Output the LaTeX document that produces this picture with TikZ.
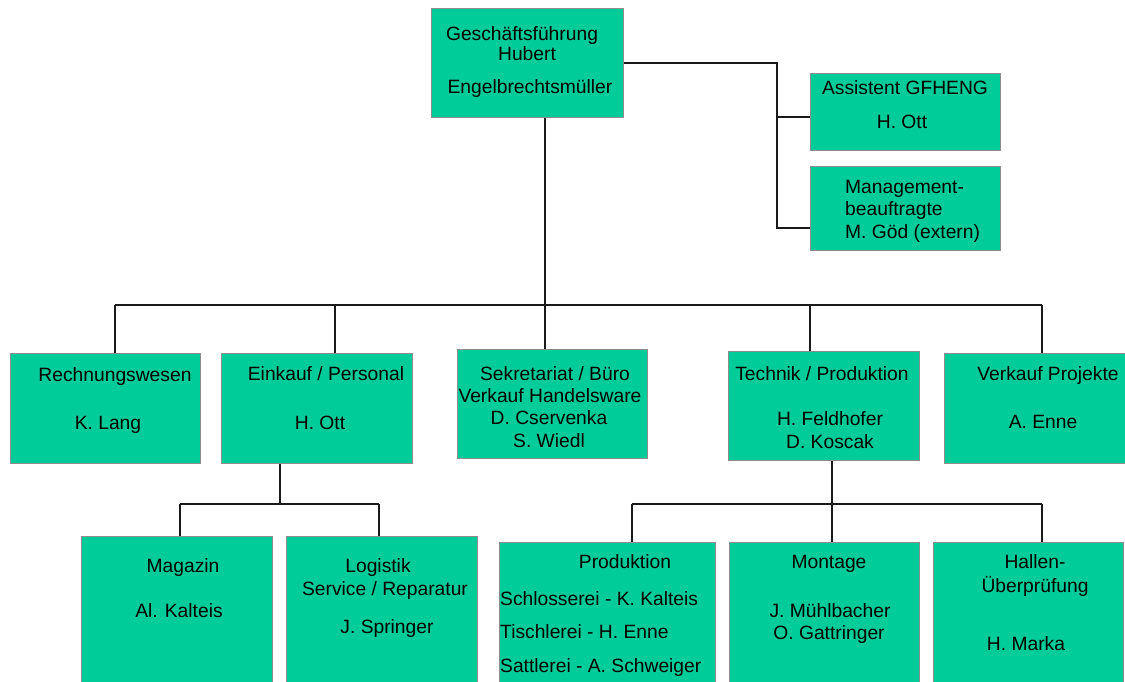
\documentclass[tikz,border=0pt]{standalone}
\usepackage{fontspec}
\setmainfont{Liberation Sans}
\definecolor{boxfill}{HTML}{00CC99}
\definecolor{boxline}{HTML}{8C8C8C}
\definecolor{linecol}{HTML}{1A1A1A}
\tikzset{
  box/.style={draw=boxline, fill=boxfill, line width=1.2pt, inner sep=0pt, anchor=north west, rectangle},
  txt/.style={inner sep=0pt, anchor=base, font=\fontsize{19.25}{23}\selectfont, text=black},
  txtl/.style={txt, anchor=base west},
  conn/.style={draw=linecol, line width=1.5pt}
}
\begin{document}
\begin{tikzpicture}[x=1pt,y=-1pt]
\clip (0,0) rectangle (1125,681);
\fill[white] (0,0) rectangle (1125,681);

% boxes
\node[box, minimum width=192pt, minimum height=109pt] (gf)   at (431,8) {};
\node[box, minimum width=190pt, minimum height=77pt]  (asst) at (810,73) {};
\node[box, minimum width=190pt, minimum height=84pt]  (mgmt) at (810,166) {};
\node[box, minimum width=190pt, minimum height=110pt] (rech) at (10,353) {};
\node[box, minimum width=191pt, minimum height=110pt] (eink) at (221,353) {};
\node[box, minimum width=190pt, minimum height=109pt] (sekr) at (457,349) {};
\node[box, minimum width=191pt, minimum height=109pt] (tech) at (728,351) {};
\node[box, minimum width=200pt, minimum height=110pt] (verk) at (944,353) {};
\node[box, minimum width=191pt, minimum height=160pt] (mag)  at (81,536) {};
\node[box, minimum width=191pt, minimum height=160pt] (logi) at (286,536) {};
\node[box, minimum width=216pt, minimum height=160pt] (prod) at (499,542) {};
\node[box, minimum width=190pt, minimum height=160pt] (mont) at (729,542) {};
\node[box, minimum width=190pt, minimum height=160pt] (hall) at (933,542) {};

% junction coordinates
\coordinate (rj1) at (777,117);
\coordinate (rj2) at (777,228);
\coordinate (busL) at (115,305);
\coordinate (busE) at (335,305);
\coordinate (busM) at (545,305);
\coordinate (busT) at (810,305);
\coordinate (busR) at (1042,305);
\coordinate (ej)  at (280,504);
\coordinate (ejL) at (180,504);
\coordinate (ejR) at (379,504);
\coordinate (tj)  at (832,504);
\coordinate (tL)  at (632,504);
\coordinate (tR)  at (1042,504);

% connectors
\draw[conn] (gf.east) -| (rj2) -- (rj2 -| mgmt.west);
\draw[conn] (rj1) -- (rj1 -| asst.west);
\draw[conn] (gf.south -| busM) -- (sekr.north -| busM);
\draw[conn] (busL) -- (busR);
\draw[conn] (busL) -- (rech.north -| busL);
\draw[conn] (busE) -- (eink.north -| busE);
\draw[conn] (busT) -- (tech.north -| busT);
\draw[conn] (busR) -- (verk.north -| busR);
\draw[conn] (eink.south -| ej) -- (ej);
\draw[conn] (ejL) -- (ejR);
\draw[conn] (ejL) -- (mag.north -| ejL);
\draw[conn] (ejR) -- (logi.north -| ejR);
\draw[conn] (tech.south -| tj) -- (mont.north -| tj);
\draw[conn] (tL) -- (tR);
\draw[conn] (tL) -- (prod.north -| tL);
\draw[conn] (tR) -- (hall.north -| tR);

% texts
\node[txt] (gf1) at (522,40) {Geschäftsführung};
\node[txt] (gf2) at (527,60) {Hubert};
\node[txt] (gf3) at (530,93) {Engelbrechtsmüller};

\node[txt] (as1) at (905,94) {Assistent GFHENG};
\node[txt] (as2) at (902,128) {H. Ott};

\node[txtl] (mg1) at (845,193) {Management-};
\node[txtl] (mg2) at (845,215) {beauftragte};
\node[txtl] (mg3) at (845,238) {M. Göd (extern)};

\node[txt] (re1) at (115,381) {Rechnungswesen};
\node[txt] (re2) at (108,429) {K. Lang};

\node[txt] (ei1) at (326,380) {Einkauf / Personal};
\node[txt] (ei2) at (320,429) {H. Ott};

\node[txt] (se1) at (555,380) {Sekretariat / Büro};
\node[txt] (se2) at (550,402) {Verkauf Handelsware};
\node[txt] (se3) at (549,424) {D. Cservenka};
\node[txt] (se4) at (549,447) {S. Wiedl};

\node[txt] (te1) at (822,380) {Technik / Produktion};
\node[txt] (te2) at (830,425) {H. Feldhofer};
\node[txt] (te3) at (830,448) {D. Koscak};

\node[txt] (ve1) at (1048,380) {Verkauf Projekte};
\node[txt] (ve2) at (1043,428) {A. Enne};

\node[txt] (ma1) at (183,572) {Magazin};
\node[txt] (ma2) at (179,617) {Al. Kalteis};

\node[txt] (lo1) at (378,572) {Logistik};
\node[txt] (lo2) at (385,595) {Service / Reparatur};
\node[txt] (lo3) at (387,633) {J. Springer};

\node[txt]  (pr1) at (625,568) {Produktion};
\node[txtl] (pr2) at (500,605) {Schlosserei - K. Kalteis};
\node[txtl] (pr3) at (500,638) {Tischlerei - H. Enne};
\node[txtl] (pr4) at (500,672) {Sattlerei - A. Schweiger};

\node[txt] (mo1) at (829,568) {Montage};
\node[txt] (mo2) at (830,617) {J. Mühlbacher};
\node[txt] (mo3) at (829,639) {O. Gattringer};

\node[txt] (ha1) at (1035,568) {Hallen-};
\node[txt] (ha2) at (1035,592) {Überprüfung};
\node[txt] (ha3) at (1026,650) {H. Marka};
\end{tikzpicture}
\end{document}
